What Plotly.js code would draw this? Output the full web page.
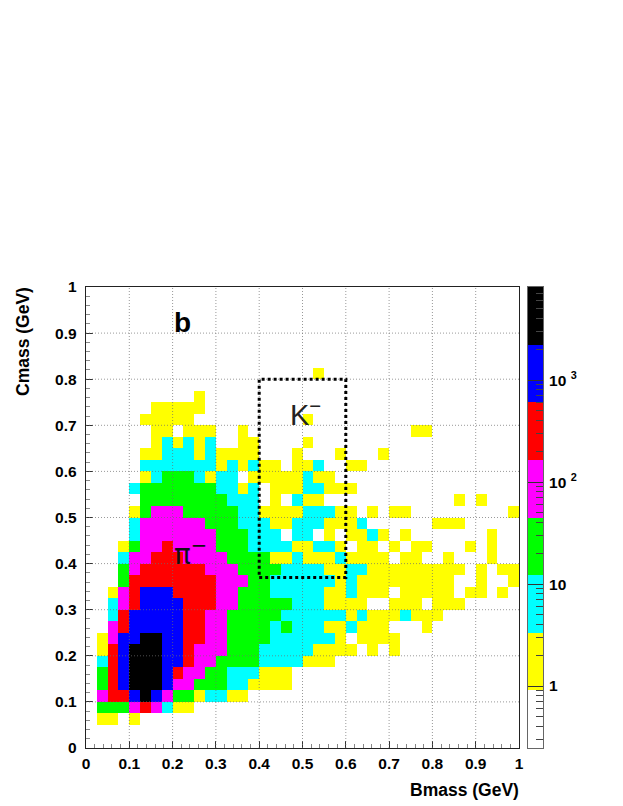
<!DOCTYPE html>
<html><head><meta charset="utf-8">
<script src="https://cdn.plot.ly/plotly-3.0.1.min.js"></script>
<style>html,body{margin:0;padding:0;background:#fff}#c{width:623px;height:806px}</style>
</head><body><div id="c"></div>
<script>
// Colour level per cell (0 = empty, 1..7 = yellow..black); each string is one Cmass row from 0 upward, each char one Bmass bin of 0.025.
var E = "0000000000000000000000000000000000000000";
var cellLevels = [
E, E,
"0110100000000000000000000000000000000000",
"0333454211000000000000000000000000000000",
"0455676433122110000000000000000000000000",
"0356777644333221111000000000000000000000",
"0356777654433222111000000000000000000000",
"0256777665443333222211100000000000000000",
"0156777665444333222221111010100000000000",
"0146677665544333322222210111100000000000",
"0045666665544333323222112111000100000000",
"0025666665544333332222221211121110000000",
"0024566665554433333222111100111011100000",
"0014566655554433322222112111011111011010",
"0003555555554443322222212111111111001001",
"0003455555544433332222112211111111101011",
"0002445554444333311211121111011001000100",
"0001344544443332222112210110101100010100",
"0000244444443332220220101121010000000100",
"0000244444433322211222111200000011100000",
"0000134443333322111122211010110000000001",
"0000033333333222010211000000000000101000",
"0000233333332212011122111000000000000000",
"0000012333212201111121100000000000000000",
"0000022222221212110112001100000000000000",
"0000011222121111000100010001000000000000",
"0000001212120011000010000000000000000000",
"0000001101110010000000000000001100000000",
"0000011111000000000010000000000000000000",
"0000001111100000000000000000000000000000",
"0000000000100000000000000000000000000000",
E,
"0000000000000000000001000000000000000000",
E, E, E, E, E, E, E
];
var binWidth = 0.025;
var levelColors = ["#ffffff","#ffff00","#00ffff","#00ff00","#ff00ff","#ff0000","#0000ff","#000000"];
var axisTicks = [0,0.1,0.2,0.3,0.4,0.5,0.6,0.7,0.8,0.9,1];
var axisLabels = ["0","0.1","0.2","0.3","0.4","0.5","0.6","0.7","0.8","0.9","1"];
var scaleTicks = [1,10,100,1000];
var scaleLabels = ["1","10","10&nbsp;<sup>2</sup>","10&nbsp;<sup>3</sup>"];
var scaleMin = 0.247, scaleMax = 8180;
var kaonBox = {x0:0.4, x1:0.6, y0:0.37, y1:0.8};

var N = 40, xc = [], yc = [];
for (var i=0;i<N;i++){ xc.push((i+0.5)*binWidth); yc.push((i+0.5)*binWidth); }
var z = cellLevels.map(function(r){ return r.split("").map(function(c){ var v=+c; return v===0?null:v; }); });

var cs = [];
levelColors.forEach(function(c,k){ cs.push([k/8,c]); cs.push([(k+1)/8,c]); });

var lo = Math.log10(scaleMin), hi = Math.log10(scaleMax), edges = [], bandZ = [];
for (var k=0;k<=8;k++) edges.push(Math.pow(10, lo+(hi-lo)*k/8));
for (k=0;k<8;k++) bandZ.push([k]);

var minorVals = [];
[0.1,1,10,100,1000].forEach(function(d){ for (var m=2;m<=9;m++){ var v=m*d; if(v>=scaleMin&&v<=scaleMax) minorVals.push(v);} });

var W=623,H=806, L=86,R=519,T=287,B=748;
var tickFont = {family:'"Liberation Sans",Arial,sans-serif', size:15.5, color:'#000', weight:700};

function axis(o){
  var a = {range:[0,1], tickmode:'array', tickvals:axisTicks, ticktext:axisLabels, ticks:'inside', ticklen:7,
    tickcolor:'#333', tickwidth:1, showgrid:false, zeroline:false, showline:true, linecolor:'#222', linewidth:1.3, mirror:true,
    tickfont:tickFont,
    minor:{tickmode:'array', tickvals:[0.02,0.04,0.06,0.08].reduce(function(acc,s){ for(var d=0;d<10;d++) acc.push(d/10+s); return acc; },[]), ticks:'inside', ticklen:4, tickcolor:'#888', tickwidth:1, showgrid:false}};
  for (var p in o) a[p]=o[p];
  return a;
}

var shapes = [];
axisTicks.slice(1,-1).forEach(function(t){
  var st = {type:'line', layer:'above', line:{color:'rgba(110,110,110,0.7)', width:1, dash:'1px,2px'}};
  shapes.push(Object.assign({}, st, {xref:'x',yref:'paper',x0:t,x1:t,y0:(H-B)/H,y1:(H-T)/H}));
  shapes.push(Object.assign({}, st, {xref:'paper',yref:'y',x0:L/W,x1:R/W,y0:t,y1:t}));
});
shapes.push({type:'rect', layer:'above', xref:'x', yref:'y', x0:kaonBox.x0, x1:kaonBox.x1, y0:kaonBox.y0, y1:kaonBox.y1,
  line:{color:'#000', width:3, dash:'3px,3px'}, fillcolor:'rgba(0,0,0,0)'});

var boldFont = {family:'"Liberation Sans",Arial,sans-serif', size:17.5, color:'#000', weight:700};
var annotations = [
 {text:'Bmass (GeV)', xref:'paper', yref:'paper', x:(R+2)/W, y:(H-790)/H, xanchor:'right', yanchor:'middle', showarrow:false, font:boldFont},
 {text:'Cmass (GeV)', xref:'paper', yref:'paper', x:23/W, y:(H-342)/H, xanchor:'center', yanchor:'middle', textangle:-90, showarrow:false, font:boldFont},
 {text:'b', xref:'x', yref:'y', x:0.2217, y:0.922, showarrow:false, font:{family:'"Liberation Sans",Arial,sans-serif', size:28, color:'#000', weight:700}},
 {text:'π<sup>−</sup>', xref:'x', yref:'y', x:0.242, y:0.424, showarrow:false, font:{family:'"DejaVu Sans",sans-serif', size:28, color:'#111'}},
 {text:'K<sup>−</sup>', xref:'x', yref:'y', x:0.506, y:0.726, showarrow:false, font:{family:'"Liberation Sans",sans-serif', size:29, color:'#222'}}
];

var traces = [
 {type:'heatmap', x:xc, y:yc, z:z, xaxis:'x', yaxis:'y', zmin:0, zmax:8, colorscale:cs, showscale:false, hoverongaps:false, xgap:0, ygap:0},
 {type:'heatmap', x:[0,1], y:edges, z:bandZ, xaxis:'x2', yaxis:'y2', zmin:0, zmax:8, colorscale:cs, showscale:false}
];

var layout = {
 width:W, height:H, margin:{l:0,r:0,t:0,b:0}, paper_bgcolor:'#fff', plot_bgcolor:'#fff', showlegend:false,
 xaxis:axis({domain:[L/W,R/W], anchor:'y', ticklabelstandoff:1}),
 yaxis:axis({domain:[(H-B)/H,(H-T)/H], anchor:'x', ticklabelstandoff:5}),
 xaxis2:{domain:[528/W,543/W], anchor:'y2', range:[0,1], showticklabels:false, ticks:'', showgrid:false, zeroline:false, showline:true, linecolor:'#666', linewidth:1, mirror:true},
 yaxis2:{domain:[(H-B)/H,(H-T)/H], anchor:'x2', side:'right', type:'log', range:[lo,hi], tickmode:'array', tickvals:scaleTicks, ticktext:scaleLabels,
   ticks:'inside', ticklen:15, tickcolor:'#333', tickwidth:1, showgrid:false, zeroline:false, showline:true, linecolor:'#666', linewidth:1, mirror:true,
   tickfont:tickFont, ticklabelstandoff:2,
   minor:{tickmode:'array', tickvals:minorVals, ticks:'inside', ticklen:7, tickcolor:'#444', tickwidth:1, showgrid:false}},
 shapes:shapes, annotations:annotations
};
Plotly.newPlot('c', traces, layout, {displayModeBar:false, staticPlot:true});
</script></body></html>
